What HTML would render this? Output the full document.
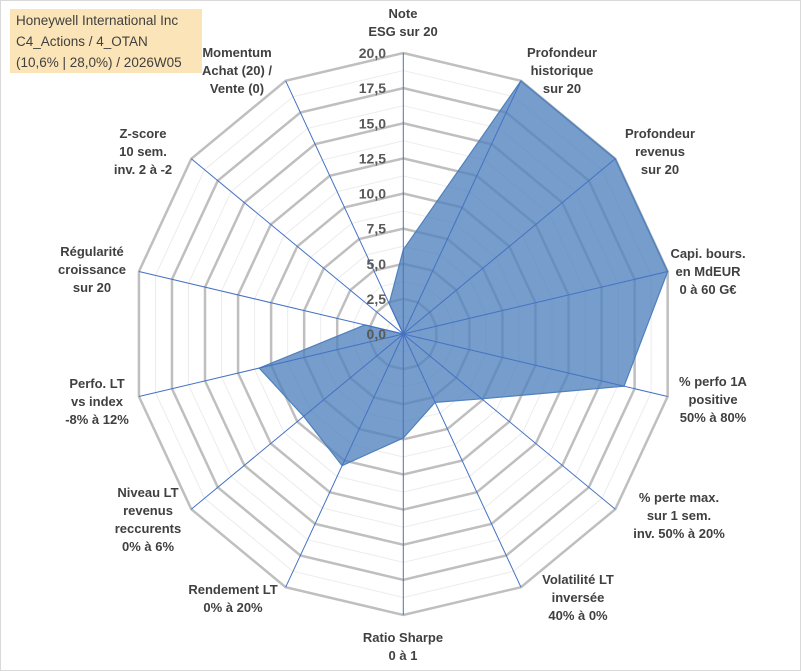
<!DOCTYPE html>
<html><head><meta charset="utf-8"><style>
body{margin:0;background:#fff;}
#wrap{position:relative;width:801px;height:671px;overflow:hidden;font-family:"Liberation Sans",sans-serif;}
svg{position:absolute;left:0;top:0;}
</style></head><body>
<div id="wrap">
<svg id="chart" width="801" height="671">
<rect x="0.5" y="0.5" width="800" height="670" fill="#fff" stroke="#d9d9d9"/>
<rect x="10" y="9" width="192" height="64" fill="#fbe5b8"/>
<text x="16" y="25" font-size="13.5" fill="#404040">Honeywell International Inc</text>
<text x="16" y="46" font-size="13.5" fill="#404040">C4_Actions / 4_OTAN</text>
<text x="16" y="67" font-size="13.5" fill="#404040">(10,6% | 28,0%) / 2026W05</text>
<g id="grid"></g><g id="series"></g><g id="axes"></g><g id="ticks"></g><g id="labels"></g>
</svg>
</div>
<script>
const categories=[["Note","ESG sur 20"],["Profondeur","historique","sur 20"],["Profondeur","revenus","sur 20"],["Capi. bours.","en MdEUR","0 à 60 G€"],["% perfo 1A","positive","50% à 80%"],["% perte max.","sur 1 sem.","inv. 50% à 20%"],["Volatilité LT","inversée","40% à 0%"],["Ratio Sharpe","0 à 1"],["Rendement LT","0% à 20%"],["Niveau LT","revenus","reccurents","0% à 6%"],["Perfo. LT","vs index","-8% à 12%"],["Régularité","croissance","sur 20"],["Z-score","10 sem.","inv. 2 à -2"],["Momentum","Achat (20) /","Vente (0)"]];
const values=[6.0,20,20,20,16.7,7.4,5.4,7.4,10.4,9.4,10.9,2.9,0,2.4];
const tickValues=[0,2.5,5,7.5,10,12.5,15,17.5,20];
const tickLabels=["0,0","2,5","5,0","7,5","10,0","12,5","15,0","17,5","20,0"];
const labelPos=[[403,13],[562,52],[660,133],[708,253],[713,381],[679,497],[578,579],[403,637],[233,589],[148,492],[97,383],[92,251],[143,133],[237,52]];
const cx=403.3,cy=334,R=281,maxV=20,xs=0.965;
const N=categories.length;
const NS="http://www.w3.org/2000/svg";
function rScale(v){return v/maxV*R;}
function pt(i,v){const a=2*Math.PI*i/N;return [cx+xs*rScale(v)*Math.sin(a),cy-rScale(v)*Math.cos(a)];}
function mk(tag,attrs,parent){const e=document.createElementNS(NS,tag);for(const k in attrs)e.setAttribute(k,attrs[k]);parent.appendChild(e);return e;}
const grid=document.getElementById('grid');
for(let v=1.25;v<=20.001;v+=1.25){
  const major=Math.abs(v/2.5-Math.round(v/2.5))<1e-6;
  const p=[];for(let i=0;i<N;i++)p.push(pt(i,v).join(','));
  const e=mk('polygon',{points:p.join(' '),fill:'none',stroke:major?'#bfbfbf':'#ececec','stroke-width':major?2.5:1},grid);
  
  
}
const ser=document.getElementById('series');
const sp=values.map((v,i)=>pt(i,v).join(','));
const poly=mk('polygon',{points:sp.join(' '),fill:'rgba(79,129,189,0.78)',stroke:'#4f81bd','stroke-width':1.2},ser);


const axes=document.getElementById('axes');
for(let i=0;i<N;i++){const [x,y]=pt(i,20);
  const l=mk('line',{x1:cx,y1:cy,x2:x,y2:y,stroke:'#4472c4','stroke-width':1},axes);
  
  
}
const ticks=document.getElementById('ticks');
tickValues.forEach((v,k)=>{
  const t=mk('text',{x:386,y:cy-rScale(v)+5,'text-anchor':'end','font-size':14,'font-weight':'bold',fill:'#595959'},ticks);
  t.textContent=tickLabels[k];
  
  
});
const labels=document.getElementById('labels');
categories.forEach((lines,i)=>{
  const g=mk('text',{'text-anchor':'middle','font-size':13,'font-weight':'bold',fill:'#404040'},labels);
  
  
  lines.forEach((s,j)=>{const ts=mk('tspan',{x:labelPos[i][0],y:labelPos[i][1]+5+j*18},g);ts.textContent=s;});
});
</script>
</body></html>
